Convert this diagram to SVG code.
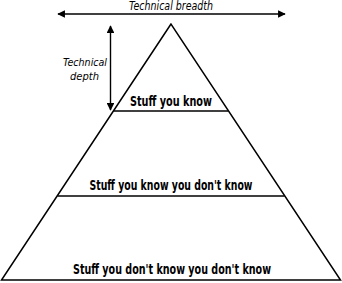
<svg xmlns="http://www.w3.org/2000/svg" width="342" height="283" viewBox="0 0 342 283">
  <style>
    .edge { stroke: #000; stroke-width: 1.5; fill: none; }
    .axis { stroke: #000; stroke-width: 1.4; fill: none; }
    .label { font-family: "DejaVu Sans Condensed", "Liberation Sans", sans-serif; font-weight: bold; font-size: 13.5px; fill: #000; text-anchor: middle; }
    .axis-label { font-family: "DejaVu Sans Condensed", "Liberation Sans", sans-serif; font-style: italic; font-size: 11.5px; fill: #000; text-anchor: middle; }
    .depth-label { font-size: 11px; }
  </style>
  <defs>
    <marker id="arrow" viewBox="0 0 10 10" refX="9" refY="5" markerWidth="5.5" markerHeight="5.5" orient="auto-start-reverse" markerUnits="strokeWidth">
      <path d="M0,0 L10,5 L0,10 z" fill="#000"/>
    </marker>
  </defs>
  <rect width="342" height="283" fill="#fff"/>

  <!-- Axes: breadth across the top, depth down the side -->
  <g id="connectors">
    <line class="axis" x1="58" y1="14" x2="285" y2="14" marker-start="url(#arrow)" marker-end="url(#arrow)"/>
    <line class="axis" x1="110.5" y1="26" x2="110.5" y2="110" marker-start="url(#arrow)" marker-end="url(#arrow)"/>
  </g>

  <g id="breadth-label">
    <text class="axis-label" x="171" y="10" textLength="84" lengthAdjust="spacingAndGlyphs">Technical breadth</text>
  </g>
  <g id="depth-label">
    <text class="axis-label depth-label" x="85" y="66" textLength="44" lengthAdjust="spacingAndGlyphs">Technical</text>
    <text class="axis-label depth-label" x="84.5" y="79.5" textLength="29" lengthAdjust="spacingAndGlyphs">depth</text>
  </g>

  <!-- Pyramid outline -->
  <g id="pyramid">
    <path class="edge" d="M171,24 L1.5,280 L340.5,280 Z"/>
  </g>

  <g id="tier-known">
    <line class="edge" x1="114" y1="111" x2="228" y2="111"/>
    <text class="label" x="171" y="106" textLength="82" lengthAdjust="spacingAndGlyphs">Stuff you know</text>
  </g>
  <g id="tier-known-unknowns">
    <line class="edge" x1="57.5" y1="196" x2="284.5" y2="196"/>
    <text class="label" x="171" y="190" textLength="163" lengthAdjust="spacingAndGlyphs">Stuff you know you don't know</text>
  </g>
  <g id="tier-unknown-unknowns">
    <text class="label" x="172" y="274" textLength="198" lengthAdjust="spacingAndGlyphs">Stuff you don't know you don't know</text>
  </g>
</svg>
